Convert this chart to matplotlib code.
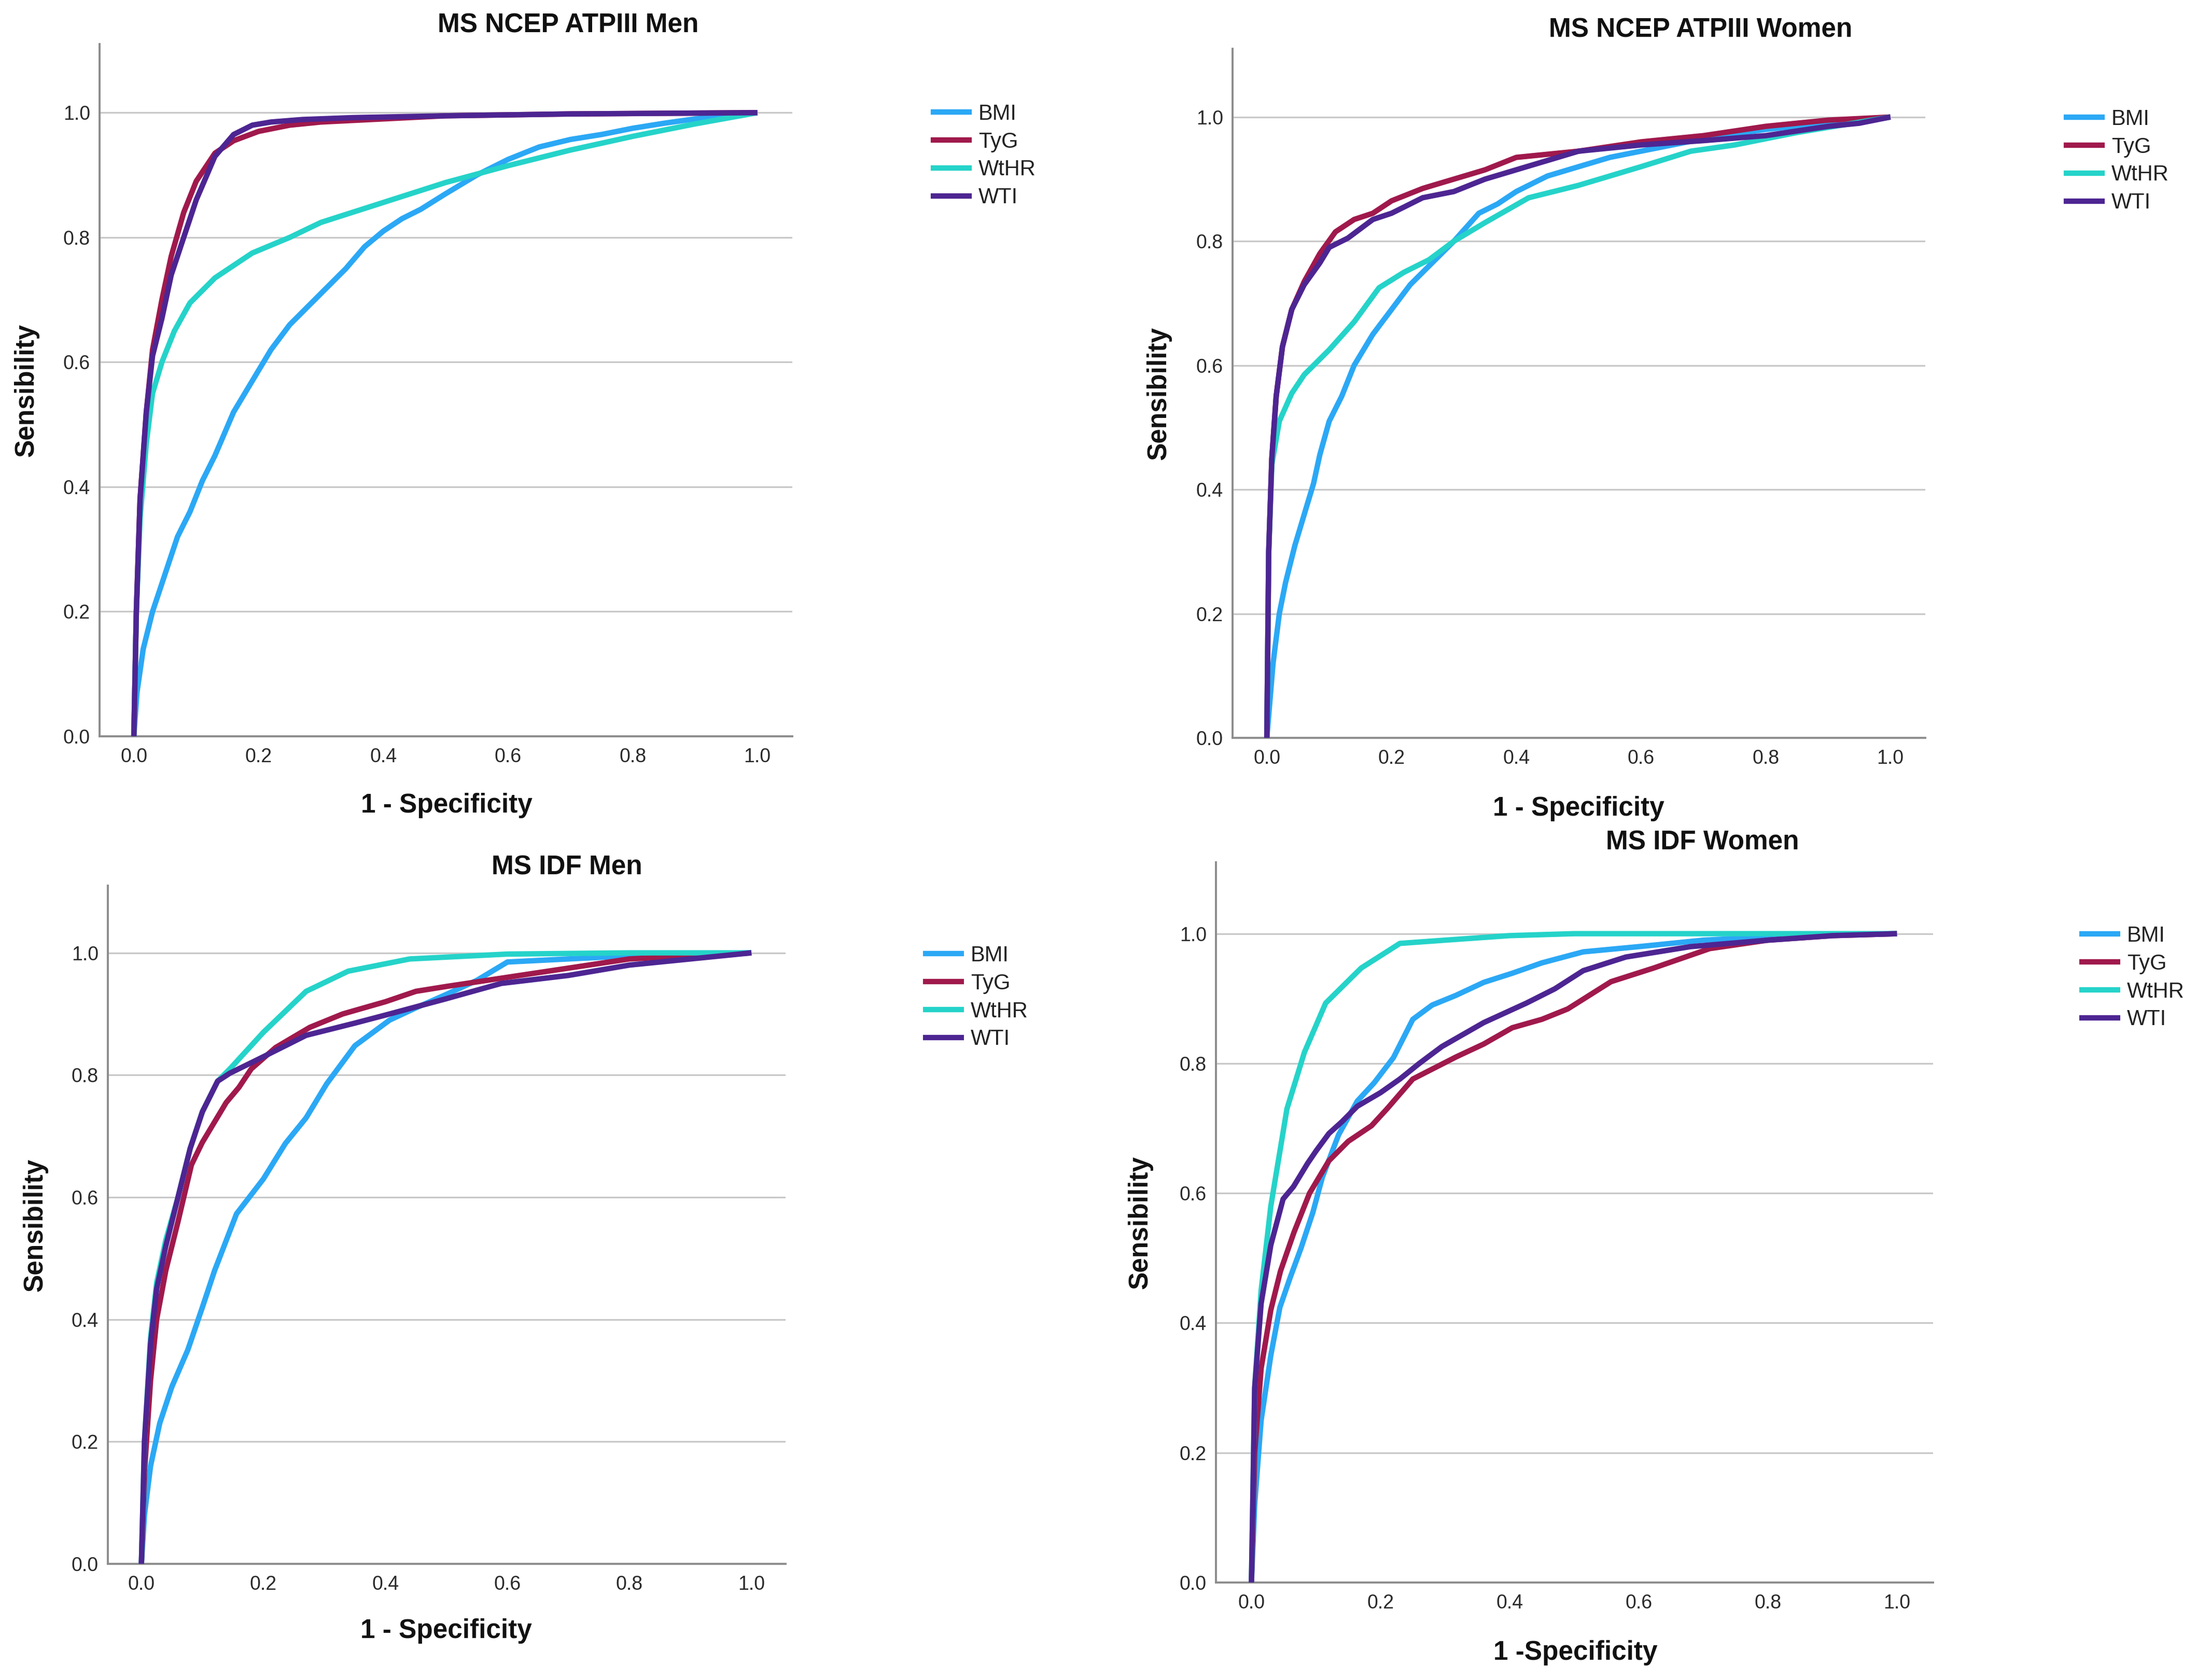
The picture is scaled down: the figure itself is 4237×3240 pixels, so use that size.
import matplotlib
matplotlib.use("Agg")
import matplotlib.pyplot as plt

plt.rcParams['font.family'] = ['Liberation Sans', 'DejaVu Sans']

W, H = 4237, 3240

series_names = ['BMI', 'TyG', 'WtHR', 'WTI']
panel_titles = ['MS NCEP ATPIII Men', 'MS NCEP ATPIII Women', 'MS IDF Men', 'MS IDF Women']
x_labels = ['1 - Specificity', '1 - Specificity', '1 - Specificity', '1 -Specificity']
y_label = 'Sensibility'
tick_values = [0.0, 0.2, 0.4, 0.6, 0.8, 1.0]

# ---- MS NCEP ATPIII Men ----
ncep_men_bmi_x = [0, 0.005, 0.015, 0.03, 0.05, 0.07, 0.09, 0.11, 0.13, 0.16, 0.19, 0.22, 0.25, 0.28, 0.31, 0.34,
                  0.37, 0.40, 0.43, 0.46, 0.50, 0.55, 0.60, 0.65, 0.70, 0.75, 0.80, 0.85, 0.90, 0.95, 1.0]
ncep_men_bmi_y = [0, 0.07, 0.14, 0.20, 0.26, 0.32, 0.36, 0.41, 0.45, 0.52, 0.57, 0.62, 0.66, 0.69, 0.72, 0.75,
                  0.785, 0.81, 0.83, 0.845, 0.87, 0.90, 0.925, 0.945, 0.957, 0.965, 0.975, 0.983, 0.99, 0.996, 1.0]
ncep_men_tyg_x = [0, 0.004, 0.01, 0.02, 0.03, 0.045, 0.06, 0.08, 0.10, 0.13, 0.16, 0.2, 0.25, 0.3, 0.4, 0.5, 0.7, 1.0]
ncep_men_tyg_y = [0, 0.2, 0.38, 0.52, 0.62, 0.70, 0.77, 0.84, 0.89, 0.935, 0.955, 0.97, 0.98, 0.985, 0.99, 0.995,
                  0.998, 1.0]
ncep_men_wthr_x = [0, 0.004, 0.01, 0.02, 0.03, 0.045, 0.065, 0.09, 0.13, 0.19, 0.25, 0.30, 0.4, 0.5, 0.6, 0.7, 0.8,
                   0.9, 1.0]
ncep_men_wthr_y = [0, 0.2, 0.35, 0.47, 0.55, 0.6, 0.65, 0.695, 0.735, 0.775, 0.80, 0.824, 0.856, 0.888, 0.915, 0.94,
                   0.962, 0.982, 1.0]
ncep_men_wti_x = [0, 0.004, 0.01, 0.02, 0.03, 0.045, 0.06, 0.08, 0.10, 0.13, 0.16, 0.19, 0.22, 0.27, 0.35, 0.5, 0.7,
                  1.0]
ncep_men_wti_y = [0, 0.2, 0.38, 0.52, 0.61, 0.67, 0.74, 0.80, 0.86, 0.93, 0.965, 0.98, 0.985, 0.989, 0.992, 0.995,
                  0.998, 1.0]

# ---- MS NCEP ATPIII Women ----
ncep_women_bmi_x = [0, 0.005, 0.01, 0.02, 0.03, 0.045, 0.06, 0.075, 0.085, 0.1, 0.12, 0.14, 0.17, 0.2, 0.23, 0.27,
                    0.30, 0.34, 0.37, 0.4, 0.45, 0.5, 0.55, 0.6, 0.7, 0.8, 0.9, 1.0]
ncep_women_bmi_y = [0, 0.06, 0.12, 0.2, 0.25, 0.31, 0.36, 0.41, 0.456, 0.51, 0.55, 0.6, 0.65, 0.69, 0.73, 0.77,
                    0.8, 0.845, 0.86, 0.88, 0.905, 0.92, 0.935, 0.945, 0.965, 0.98, 0.99, 1.0]
ncep_women_tyg_x = [0, 0.003, 0.008, 0.015, 0.025, 0.04, 0.06, 0.085, 0.11, 0.14, 0.17, 0.2, 0.25, 0.3, 0.35, 0.4,
                    0.5, 0.6, 0.7, 0.8, 0.9, 1.0]
ncep_women_tyg_y = [0, 0.3, 0.45, 0.55, 0.63, 0.69, 0.735, 0.78, 0.815, 0.835, 0.845, 0.865, 0.885, 0.9, 0.915,
                    0.935, 0.945, 0.96, 0.97, 0.985, 0.995, 1.0]
ncep_women_wthr_x = [0, 0.003, 0.008, 0.02, 0.04, 0.06, 0.1, 0.14, 0.18, 0.22, 0.26, 0.3, 0.35, 0.42, 0.5, 0.6,
                     0.68, 0.75, 0.85, 1.0]
ncep_women_wthr_y = [0, 0.3, 0.44, 0.51, 0.555, 0.585, 0.625, 0.67, 0.725, 0.75, 0.77, 0.8, 0.83, 0.87, 0.89, 0.92,
                     0.945, 0.955, 0.975, 1.0]
ncep_women_wti_x = [0, 0.003, 0.008, 0.015, 0.025, 0.04, 0.06, 0.085, 0.1, 0.13, 0.17, 0.2, 0.25, 0.3, 0.35, 0.4,
                    0.5, 0.6, 0.7, 0.8, 0.9, 0.95, 1.0]
ncep_women_wti_y = [0, 0.3, 0.45, 0.55, 0.63, 0.69, 0.73, 0.765, 0.79, 0.805, 0.835, 0.845, 0.87, 0.88, 0.9, 0.915,
                    0.945, 0.955, 0.962, 0.97, 0.985, 0.99, 1.0]

# ---- MS IDF Men ----
idf_men_bmi_x = [0, 0.005, 0.015, 0.03, 0.05, 0.076, 0.1, 0.12, 0.156, 0.2, 0.236, 0.27, 0.304, 0.35, 0.407, 0.45,
                 0.5, 0.55, 0.6, 0.7, 0.8, 0.9, 1.0]
idf_men_bmi_y = [0, 0.08, 0.16, 0.23, 0.29, 0.35, 0.42, 0.48, 0.573, 0.63, 0.688, 0.73, 0.786, 0.848, 0.89, 0.91,
                 0.932, 0.955, 0.985, 0.99, 0.995, 0.998, 1.0]
idf_men_tyg_x = [0, 0.005, 0.015, 0.025, 0.04, 0.06, 0.082, 0.1, 0.139, 0.16, 0.18, 0.22, 0.276, 0.33, 0.4, 0.45,
                 0.5, 0.6, 0.7, 0.8, 0.9, 1.0]
idf_men_tyg_y = [0, 0.15, 0.3, 0.4, 0.48, 0.56, 0.653, 0.69, 0.755, 0.78, 0.81, 0.845, 0.878, 0.9, 0.92, 0.937,
                 0.945, 0.96, 0.975, 0.99, 0.995, 1.0]
idf_men_wthr_x = [0, 0.005, 0.015, 0.025, 0.04, 0.06, 0.08, 0.1, 0.125, 0.145, 0.2, 0.27, 0.339, 0.44, 0.6, 0.8, 1.0]
idf_men_wthr_y = [0, 0.2, 0.37, 0.46, 0.53, 0.6, 0.68, 0.74, 0.79, 0.81, 0.87, 0.937, 0.97, 0.99, 0.998, 1.0, 1.0]
idf_men_wti_x = [0, 0.005, 0.015, 0.025, 0.04, 0.06, 0.08, 0.1, 0.125, 0.145, 0.2, 0.27, 0.35, 0.407, 0.5, 0.59,
                 0.7, 0.8, 0.9, 1.0]
idf_men_wti_y = [0, 0.2, 0.36, 0.45, 0.52, 0.6, 0.68, 0.74, 0.79, 0.803, 0.83, 0.865, 0.885, 0.9, 0.925, 0.95,
                 0.963, 0.98, 0.99, 1.0]

# ---- MS IDF Women ----
idf_women_bmi_x = [0, 0.005, 0.015, 0.03, 0.044, 0.06, 0.077, 0.095, 0.11, 0.135, 0.164, 0.19, 0.22, 0.25, 0.28,
                   0.317, 0.36, 0.404, 0.45, 0.514, 0.6, 0.7, 0.8, 0.9, 1.0]
idf_women_bmi_y = [0, 0.12, 0.25, 0.35, 0.424, 0.47, 0.516, 0.57, 0.625, 0.69, 0.742, 0.77, 0.809, 0.868, 0.89,
                   0.905, 0.925, 0.939, 0.955, 0.972, 0.98, 0.99, 0.995, 0.998, 1.0]
idf_women_tyg_x = [0, 0.005, 0.015, 0.03, 0.045, 0.066, 0.09, 0.12, 0.15, 0.186, 0.21, 0.25, 0.317, 0.36, 0.404,
                   0.45, 0.49, 0.557, 0.623, 0.71, 0.8, 0.9, 1.0]
idf_women_tyg_y = [0, 0.2, 0.33, 0.42, 0.48, 0.54, 0.6, 0.65, 0.68, 0.704, 0.73, 0.776, 0.81, 0.83, 0.855, 0.868,
                   0.884, 0.926, 0.947, 0.977, 0.99, 0.997, 1.0]
idf_women_wthr_x = [0, 0.005, 0.015, 0.03, 0.055, 0.082, 0.115, 0.17, 0.23, 0.3, 0.4, 0.5, 0.7, 1.0]
idf_women_wthr_y = [0, 0.3, 0.45, 0.58, 0.73, 0.817, 0.893, 0.947, 0.985, 0.99, 0.997, 1.0, 1.0, 1.0]
idf_women_wti_x = [0, 0.005, 0.015, 0.03, 0.049, 0.065, 0.087, 0.1, 0.12, 0.14, 0.164, 0.2, 0.23, 0.26, 0.295,
                   0.36, 0.426, 0.47, 0.514, 0.58, 0.68, 0.8, 0.9, 1.0]
idf_women_wti_y = [0, 0.3, 0.43, 0.52, 0.591, 0.61, 0.646, 0.665, 0.692, 0.71, 0.734, 0.755, 0.776, 0.8, 0.826,
                   0.863, 0.893, 0.915, 0.943, 0.964, 0.98, 0.99, 0.997, 1.0]

panels = [
    [(ncep_men_bmi_x, ncep_men_bmi_y), (ncep_men_tyg_x, ncep_men_tyg_y),
     (ncep_men_wthr_x, ncep_men_wthr_y), (ncep_men_wti_x, ncep_men_wti_y)],
    [(ncep_women_bmi_x, ncep_women_bmi_y), (ncep_women_tyg_x, ncep_women_tyg_y),
     (ncep_women_wthr_x, ncep_women_wthr_y), (ncep_women_wti_x, ncep_women_wti_y)],
    [(idf_men_bmi_x, idf_men_bmi_y), (idf_men_tyg_x, idf_men_tyg_y),
     (idf_men_wthr_x, idf_men_wthr_y), (idf_men_wti_x, idf_men_wti_y)],
    [(idf_women_bmi_x, idf_women_bmi_y), (idf_women_tyg_x, idf_women_tyg_y),
     (idf_women_wthr_x, idf_women_wthr_y), (idf_women_wti_x, idf_women_wti_y)],
]

colors = ['#2ba8f5', '#a0194c', '#25d3c9', '#4d2592']

# layout in pixels: axes (left, right, top, bottom), title centre, xlabel centre, ylabel centre, legend anchor
axes_px = [(192, 1528, 85, 1420), (2377, 3713, 94, 1423), (208, 1515, 1708, 3016), (2345, 3728, 1663, 3052)]
title_px = [(1096, 49), (3280, 58), (1093, 1673), (3283, 1625)]
xlabel_px = [(861, 1554), (3044, 1559), (860, 3145), (3038, 3188)]
ylabel_px = [(51, 752), (2235, 758), (68, 2362), (2199, 2357)]
legend_px = [(1795, 200), (3980, 210), (1780, 1823), (4010, 1785)]


def fx(x):
    return x / W


def fy(y):
    return 1 - y / H


fig = plt.figure(figsize=(W / 100, H / 100), dpi=100, facecolor='white')

for k in range(4):
    l, r, t, b = axes_px[k]
    ax = fig.add_axes([fx(l), fy(b), (r - l) / W, (b - t) / H])
    for j in range(4):
        xs, ys = panels[k][j]
        ax.plot(xs, ys, color=colors[j], lw=7.5, label=series_names[j], solid_joinstyle='round',
                solid_capstyle='butt', zorder=3 + j)
    ax.set_xlim(-0.055, 1.056)
    ax.set_ylim(0, 1.11)
    ax.set_xticks(tick_values)
    ax.set_yticks(tick_values)
    ax.set_xticklabels(['%.1f' % v for v in tick_values])
    ax.set_yticklabels(['%.1f' % v for v in tick_values])
    ax.tick_params(length=0, labelsize=27, labelcolor='#2a2a2a')
    ax.tick_params(axis='x', pad=16)
    ax.tick_params(axis='y', pad=13)
    for v in tick_values[1:]:
        ax.axhline(v, color='#c8c8c8', lw=2.3, zorder=1)
    for s in ('top', 'right'):
        ax.spines[s].set_visible(False)
    for s in ('left', 'bottom'):
        ax.spines[s].set_color('#8c8c8c')
        ax.spines[s].set_linewidth(2.8)
    lx, ly = legend_px[k]
    ax.legend(loc='upper left', bbox_to_anchor=(fx(lx), fy(ly)), bbox_transform=fig.transFigure,
              frameon=False, fontsize=30, handlelength=1.9, handletextpad=0.3, labelspacing=0.33,
              borderpad=0, borderaxespad=0, labelcolor='#222222')

    tx, ty = title_px[k]
    fig.text(fx(tx), fy(ty), panel_titles[k], ha='center', va='center', fontsize=37, fontweight='bold',
             color='#111111')
    xx, xy = xlabel_px[k]
    fig.text(fx(xx), fy(xy), x_labels[k], ha='center', va='center', fontsize=37, fontweight='bold',
             color='#111111')
    yx, yy = ylabel_px[k]
    fig.text(fx(yx), fy(yy), y_label, ha='center', va='center', rotation=90, fontsize=37, fontweight='bold',
             color='#111111')

fig.savefig('out.png', dpi=100, facecolor='white')
